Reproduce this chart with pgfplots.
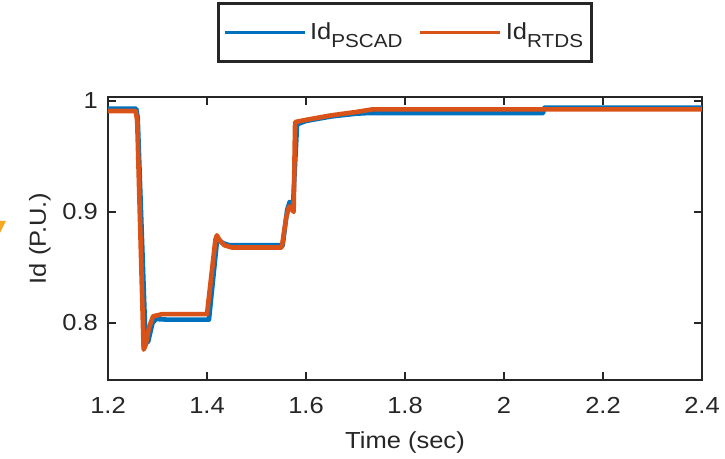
\documentclass[border=0pt]{standalone}
\usepackage{fontspec}
\setmainfont[FakeStretch=1.1]{Liberation Sans}
\usepackage{pgfplots}
\pgfplotsset{compat=1.18}
\definecolor{mblue}{RGB}{0,114,189}
\definecolor{morange}{RGB}{217,83,25}
\definecolor{axgray}{RGB}{38,38,38}
\definecolor{arrowyel}{RGB}{245,168,35}
\newcommand{\lblfont}{\fontsize{11.6}{13}\selectfont}
\newcommand{\sub}[1]{\raisebox{-4.2pt}{\fontsize{9.4}{10}\selectfont #1}}

\begin{document}
\begin{tikzpicture}
\begin{axis}[
  scale only axis, width=297pt, height=141.5pt,
  xmin=1.2, xmax=2.4, ymin=0.7486, ymax=1.0036,
  xtick={1.2,1.4,1.6,1.8,2,2.2,2.4},
  ytick={0.8,0.9,1},
  tick align=inside,
  major tick length=4pt,
  axis line style={axgray, line width=1.4pt},
  tick style={axgray, line width=1.2pt},
  /pgf/number format/assume math mode=true,
  ticklabel style={font=\lblfont, text=axgray},
  xticklabel style={yshift=-5pt},
  yticklabel style={xshift=-1.5pt},
  xlabel={Time (sec)}, ylabel={Id (P.U.)},
  label style={font=\lblfont, text=axgray},
  xlabel style={at={(axis description cs:0.5,-0.2226)}, anchor=center},
  ylabel style={at={(axis description cs:-0.1145,0.5)}, anchor=center},
  legend columns=2,
  legend style={at={(0.5,1)}, anchor=south, yshift=17pt,
    draw=axgray, line width=1.5pt, font=\lblfont, text=axgray,
    inner xsep=2pt, inner ysep=7.5pt,
    /tikz/every even column/.append style={column sep=6pt}},
  legend image code/.code={\draw[#1, line width=1.6pt] (0pt,0pt) -- (40pt,0pt);},
]
% PSCAD
\addplot[mblue, line width=2.3pt, line join=round] coordinates {
  (1.200,0.993) (1.257,0.993) (1.260,0.985) (1.276,0.782) (1.281,0.783)
  (1.290,0.800) (1.297,0.8035) (1.320,0.803) (1.404,0.803) (1.420,0.873)
  (1.424,0.875) (1.432,0.872) (1.445,0.870) (1.500,0.870) (1.553,0.870)
  (1.562,0.902) (1.567,0.909) (1.574,0.908) (1.577,0.935) (1.582,0.979)
  (1.600,0.982) (1.650,0.986) (1.700,0.9885) (1.720,0.989) (2.079,0.989)
  (2.081,0.994) (2.400,0.994)
};
% RTDS
\addplot[morange, line width=2.3pt, line join=round] coordinates {
  (1.200,0.991) (1.256,0.991) (1.259,0.982) (1.272,0.776) (1.276,0.780)
  (1.283,0.796) (1.291,0.806) (1.310,0.808) (1.400,0.808) (1.417,0.875)
  (1.420,0.879) (1.426,0.874) (1.435,0.870) (1.450,0.868) (1.500,0.868)
  (1.551,0.868) (1.560,0.895) (1.566,0.905) (1.571,0.903) (1.575,0.900)
  (1.578,0.981) (1.600,0.983) (1.650,0.987) (1.700,0.990) (1.735,0.9925)
  (2.400,0.9925)
};
\legend{Id\sub{PSCAD}, Id\sub{RTDS}}
\end{axis}
\fill[arrowyel] (-54pt,79.6pt) -- (-51pt,79.6pt) -- (-54pt,73.5pt) -- cycle;
\pgfresetboundingbox
\path (-54pt,-39.5pt) rectangle (308.5pt,190pt);
\end{tikzpicture}
\end{document}
